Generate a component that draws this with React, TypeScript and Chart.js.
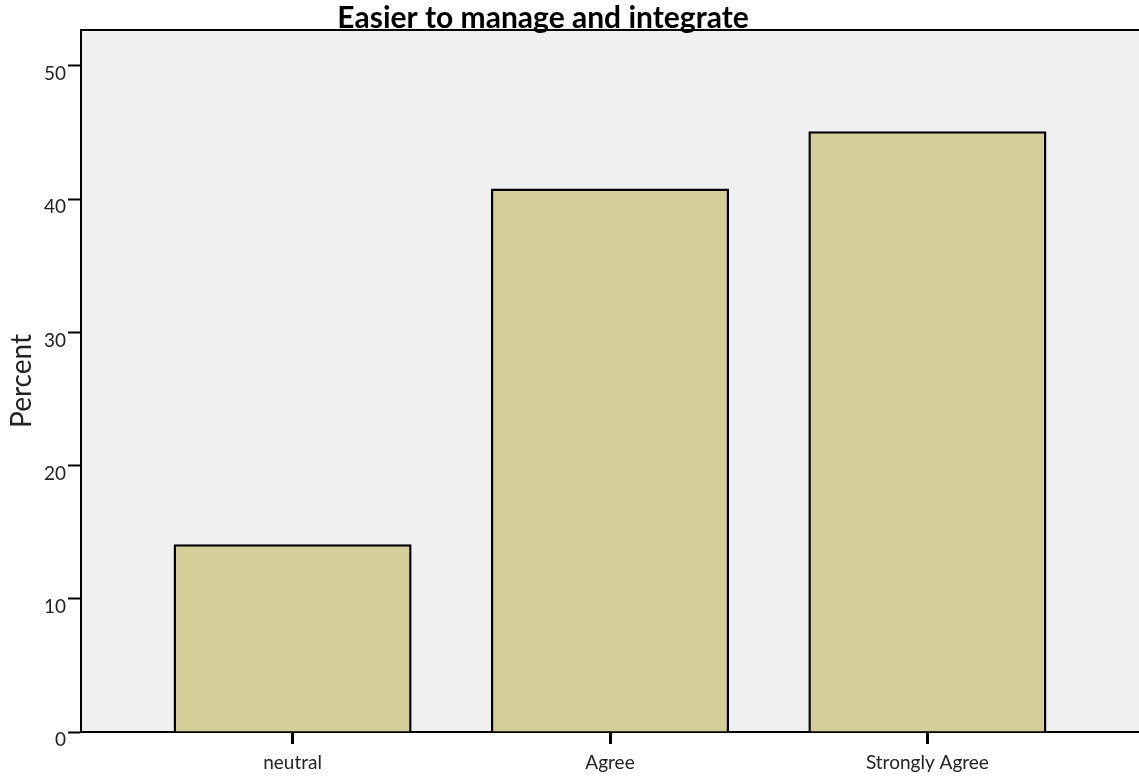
import React, { useEffect, useRef } from "react";
import { Chart, registerables } from "chart.js";

Chart.register(...registerables);

const categories = ["neutral", "Agree", "Strongly Agree"];
const percentValues = [14.1, 40.8, 45.1];
const yTickValues = [0, 10, 20, 30, 40, 50];
const chartTitle = "Easier to manage and integrate";
const yAxisTitle = "Percent";

const FONT = "Lato, 'Open Sans', sans-serif";

const plotFrame = {
  id: "plotFrame",
  beforeDraw(chart: any) {
    const { ctx, chartArea } = chart;
    ctx.save();
    ctx.fillStyle = "#f0f0f0";
    ctx.fillRect(chartArea.left, chartArea.top, chartArea.right - chartArea.left, chartArea.bottom - chartArea.top);
    ctx.restore();
  },
  afterDraw(chart: any) {
    const { ctx, chartArea } = chart;
    ctx.save();
    ctx.strokeStyle = "#000";
    ctx.lineWidth = 2;
    ctx.beginPath();
    ctx.moveTo(chartArea.left - 1, chartArea.top);
    ctx.lineTo(chartArea.right, chartArea.top);
    ctx.stroke();
    ctx.fillStyle = "#000";
    ctx.font = `bold 30px ${FONT}`;
    ctx.textAlign = "center";
    ctx.textBaseline = "alphabetic";
    ctx.fillText(chartTitle, 543, 28);
    ctx.restore();
  },
};

export default function App() {
  const ref = useRef<HTMLCanvasElement | null>(null);
  useEffect(() => {
    if (!ref.current) return;
    const chart = new Chart(ref.current, {
      type: "bar",
      data: {
        datasets: [
          {
            label: yAxisTitle,
            data: percentValues.map((v, i) => ({ x: i, y: v })),
            backgroundColor: "#d3ce98",
            borderColor: "#000",
            borderWidth: 2.5,
            barPercentage: 0.75,
            categoryPercentage: 1,
          },
        ],
      },
      options: {
        animation: false,
        responsive: false,
        maintainAspectRatio: false,
        layout: { padding: { top: 30, right: 0, left: 0, bottom: 0 } },
        plugins: { legend: { display: false }, tooltip: { enabled: false }, title: { display: false } },
        scales: {
          x: {
            type: "linear",
            min: -2 / 3,
            max: 2 + 2 / 3,
            offset: false,
            afterBuildTicks: (scale: any) => {
              scale.ticks = categories.map((_, i) => ({ value: i }));
            },
            afterFit: (scale: any) => {
              scale.height = 45;
            },
            grid: { offset: false, drawOnChartArea: false, drawTicks: true, tickLength: 12, tickWidth: 3, tickColor: "#000" },
            border: { display: true, color: "#000", width: 2 },
            ticks: {
              autoSkip: false,
              maxRotation: 0,
              padding: 7,
              color: "#222",
              font: { family: FONT, size: 19 },
              callback: (v: any) => categories[Math.round(Number(v))] ?? "",
            },
          },
          y: {
            type: "linear",
            min: 0,
            max: 52.7,
            afterBuildTicks: (scale: any) => {
              scale.ticks = yTickValues.map((v) => ({ value: v }));
            },
            afterFit: (scale: any) => {
              scale.width = 81;
            },
            grid: { drawOnChartArea: false, drawTicks: true, tickLength: 13, tickWidth: 2, tickColor: "#000" },
            border: { display: true, color: "#000", width: 2 },
            ticks: {
              padding: 2,
              labelOffset: 8,
              color: "#222",
              font: { family: FONT, size: 19 },
            },
            title: {
              display: true,
              text: yAxisTitle,
              color: "#222",
              font: { family: FONT, size: 28 },
              padding: { top: 5, bottom: 0 },
            },
          },
        },
      },
      plugins: [plotFrame],
    } as any);
    return () => chart.destroy();
  }, []);
  return (
    <div style={{ position: "fixed", left: 0, top: 0, width: 1139, height: 777, background: "#fff" }}>
      <canvas ref={ref} width={1139} height={777} style={{ width: 1139, height: 777, display: "block" }} />
    </div>
  );
}
